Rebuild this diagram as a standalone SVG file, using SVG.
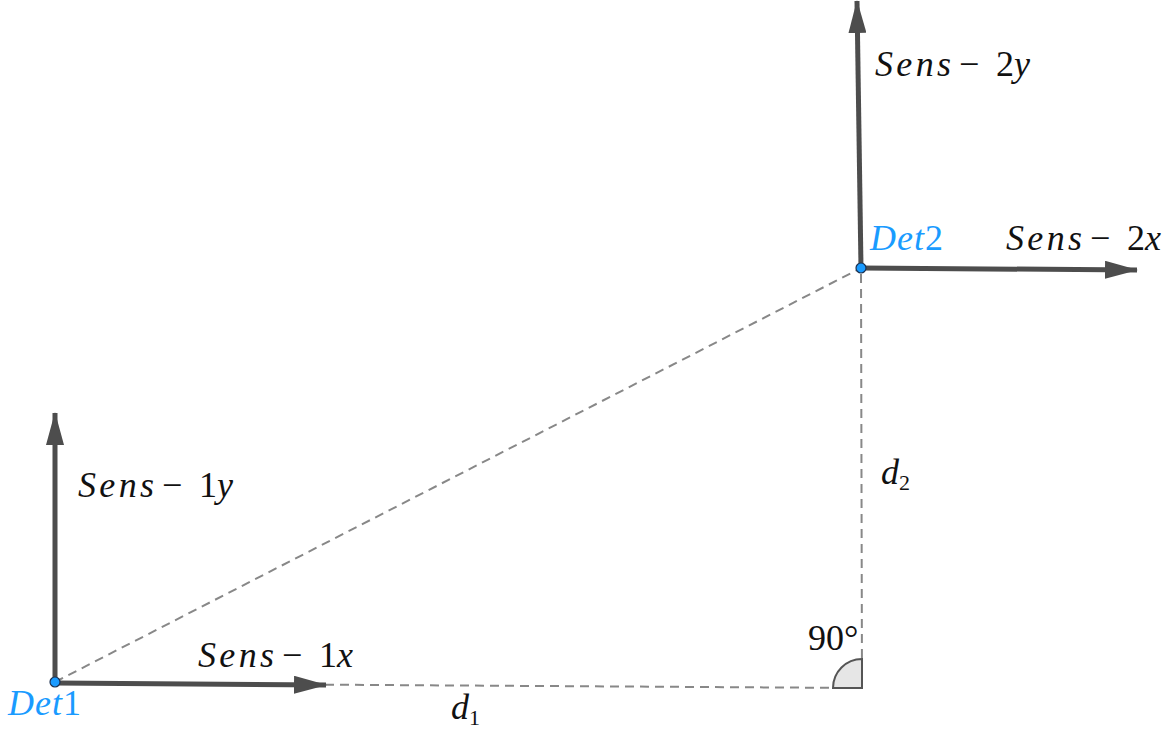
<svg xmlns="http://www.w3.org/2000/svg" width="1172" height="731" viewBox="0 0 1172 731">
<style>
.axis{stroke:#4d4d4d;stroke-width:5;fill:none}
.dash{stroke:#888;stroke-width:2;stroke-dasharray:9 6;fill:none}
.t{font-size:36px;fill:#111}
.it{font-style:italic}
.blue{fill:#1a9bff}
.pt{fill:#1a9bff;stroke:#1a3050;stroke-width:1.2}
</style>
<defs>
<marker id="ah" markerUnits="userSpaceOnUse" markerWidth="34" markerHeight="18" refX="32" refY="9" orient="auto">
<path d="M0,0 L33,9 L0,18 Z" fill="#4d4d4d"/>
</marker>
</defs>
<g id="connectors">
<line class="dash" x1="55" y1="682" x2="861" y2="268"/>
<line class="dash" x1="55" y1="683" x2="862" y2="688"/>
<line class="dash" x1="862" y1="688" x2="861" y2="268"/>
<path d="M862,688 L833,688 A29,29 0 0 1 862,659 Z" fill="#e6e6e6" stroke="#555" stroke-width="2"/>
<line class="axis" x1="55" y1="682" x2="55" y2="413" marker-end="url(#ah)"/>
<line class="axis" x1="55" y1="683" x2="326" y2="685" marker-end="url(#ah)"/>
<line class="axis" x1="861" y1="268" x2="857" y2="1" marker-end="url(#ah)"/>
<line class="axis" x1="861" y1="268" x2="1137" y2="270" marker-end="url(#ah)"/>
</g>
<g font-family="Liberation Serif, Times New Roman, DejaVu Serif, serif">
<g id="det1">
<circle class="pt" cx="55" cy="682" r="5"/>
<text class="t blue" x="8" y="715" font-size="33"><tspan class="it" textLength="54" lengthAdjust="spacing">Det</tspan>1</text>
</g>
<g id="det2">
<circle class="pt" cx="861" cy="268" r="5"/>
<text class="t blue" x="870" y="250" font-size="33"><tspan class="it" textLength="54" lengthAdjust="spacing">Det</tspan>2</text>
</g>
<g id="labels">
<text class="t" x="78" y="497"><tspan class="it" textLength="76" lengthAdjust="spacing">Sens</tspan><tspan x="162">−</tspan><tspan x="199">1</tspan><tspan class="it">y</tspan></text>
<text class="t" x="198" y="667"><tspan class="it" textLength="76" lengthAdjust="spacing">Sens</tspan><tspan x="282">−</tspan><tspan x="319">1</tspan><tspan class="it">x</tspan></text>
<text class="t" x="875" y="76"><tspan class="it" textLength="76" lengthAdjust="spacing">Sens</tspan><tspan x="959">−</tspan><tspan x="996">2</tspan><tspan class="it">y</tspan></text>
<text class="t" x="1006" y="250"><tspan class="it" textLength="76" lengthAdjust="spacing">Sens</tspan><tspan x="1090">−</tspan><tspan x="1127">2</tspan><tspan class="it">x</tspan></text>
<text class="t" x="451" y="719" font-size="33"><tspan class="it">d</tspan><tspan font-size="22" dy="6">1</tspan></text>
<text class="t" x="881" y="484" font-size="33"><tspan class="it">d</tspan><tspan font-size="22" dy="6">2</tspan></text>
<text class="t" x="808" y="650" font-size="27">90°</text>
</g>
</g>
</svg>
